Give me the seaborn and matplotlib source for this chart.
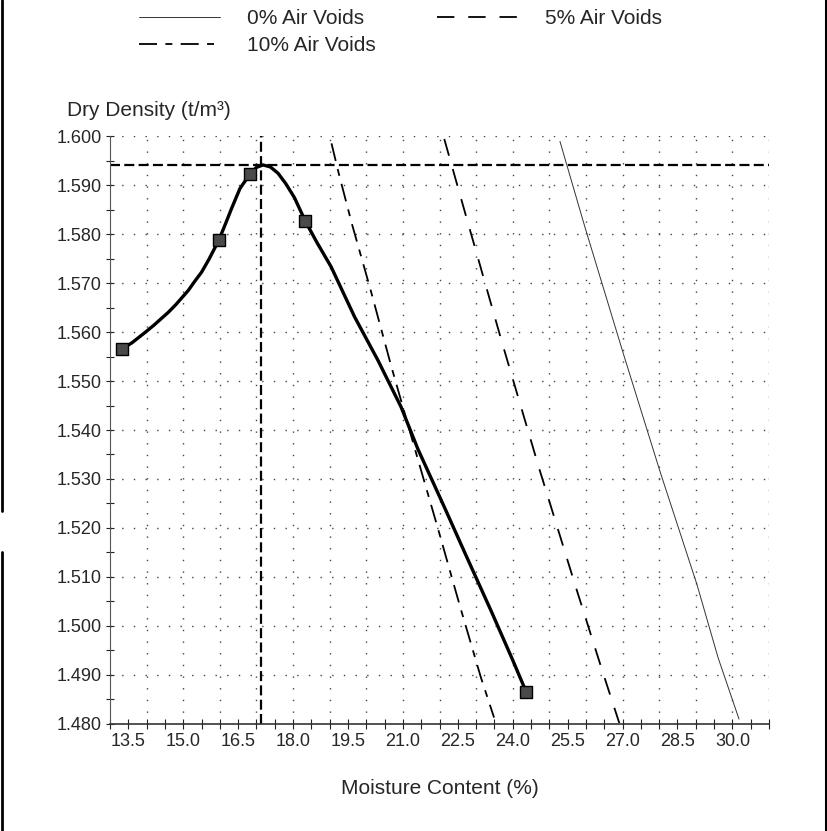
import numpy as np
import pandas as pd
import matplotlib
matplotlib.use("Agg")
import matplotlib.pyplot as plt
from matplotlib.lines import Line2D
from matplotlib.ticker import MultipleLocator, FormatStrFormatter
import seaborn as sns

# test results (moisture %, dry density t/m3)
test_w = [13.32, 15.97, 16.82, 18.33, 24.37]
test_dd = [1.5565, 1.5787, 1.5922, 1.5827, 1.4865]

# fitted compaction curve
curve_w = [13.32, 13.60, 13.99, 14.20, 14.59, 14.80, 15.14, 15.30, 15.50, 15.70, 15.97, 16.15,
           16.32, 16.55, 16.82, 17.00, 17.18, 17.38, 17.59, 17.80, 18.04, 18.33, 18.65,
           19.04, 19.68, 20.32, 20.95, 21.41, 22.13, 22.70, 23.42, 23.99, 24.37]
curve_dd = [1.5565, 1.5578, 1.5601, 1.5614, 1.5640, 1.5656, 1.5685, 1.5702, 1.5722, 1.5748, 1.5787, 1.5820,
            1.5852, 1.5893, 1.5922, 1.5936, 1.5941, 1.5937, 1.5924, 1.5903, 1.5874, 1.5827, 1.5783,
            1.5733, 1.5631, 1.5542, 1.5447, 1.5361, 1.5243, 1.5148, 1.5029, 1.4932, 1.4865]

# air void lines
av0_w = [25.29, 25.98, 27.02, 28.02, 29.03, 29.61, 30.18]
av0_dd = [1.5989, 1.5812, 1.5556, 1.5316, 1.5085, 1.4935, 1.4810]
av5_w = [22.13, 22.70, 23.71, 24.72, 25.72, 26.44, 26.91]
av5_dd = [1.5994, 1.5843, 1.5578, 1.5322, 1.5080, 1.4910, 1.4802]
av10_w = [19.05, 19.25, 19.61, 20.11, 20.69, 21.41, 21.98, 22.56, 23.13, 23.49]
av10_dd = [1.5985, 1.5923, 1.5820, 1.5688, 1.5528, 1.5340, 1.5193, 1.5040, 1.4895, 1.4813]

# optimum moisture content / maximum dry density
omc = 17.13
mdd = 1.594

x_ticks = np.arange(13.5, 30.01, 1.5)

sns.set_style("ticks")
plt.rcParams['font.family'] = ['Liberation Sans', 'DejaVu Sans']
plt.rcParams['lines.scale_dashes'] = False

fig, ax = plt.subplots(figsize=(8.27, 8.31), dpi=100)
fig.subplots_adjust(left=0.1330, right=0.9299, bottom=0.1288, top=0.8363)

ax.set_xlim(13.0, 31.0)
ax.set_ylim(1.480, 1.600)

# dotted grid: integers on x, every 0.010 on y
dot = (0, (1.0, 7.4))
for gx in np.arange(14, 31.5, 1.0):
    ax.axvline(gx, color='#444', lw=1.0, linestyle=dot, zorder=0)
for gy in np.arange(1.49, 1.6005, 0.01):
    ax.axhline(gy, color='#444', lw=1.0, linestyle=dot, zorder=0)

# OMC / MDD guide lines
ax.axhline(mdd, color='black', lw=1.6, linestyle=(0, (7.2, 3.1)), zorder=2)
ax.axvline(omc, color='black', lw=1.6, linestyle=(0, (7.2, 3.1)), zorder=2)

sns.lineplot(x=av0_w, y=av0_dd, ax=ax, sort=False, estimator=None, color='#333', lw=0.7)
h0 = ax.lines[-1]
sns.lineplot(x=av5_w, y=av5_dd, ax=ax, sort=False, estimator=None, color='black', lw=1.3)
h5 = ax.lines[-1]
h5.set_dashes((12.5, 10))
sns.lineplot(x=av10_w, y=av10_dd, ax=ax, sort=False, estimator=None, color='black', lw=1.3)
h10 = ax.lines[-1]
h10.set_dashes((13, 6, 5, 6))

sns.lineplot(x=curve_w, y=curve_dd, ax=ax, sort=False, estimator=None, color='black', lw=2.4)
ax.lines[-1].set_solid_joinstyle('round')
sns.scatterplot(x=test_w, y=test_dd, ax=ax, marker='s', s=85, color='#4a4a4a',
                edgecolor='black', linewidth=1.0, zorder=5)

if ax.get_legend() is not None:
    ax.get_legend().remove()

# axes
ax.set_xticks(x_ticks)
ax.xaxis.set_major_formatter(FormatStrFormatter('%.1f'))
ax.xaxis.set_minor_locator(MultipleLocator(0.5))
ax.yaxis.set_major_locator(MultipleLocator(0.01))
ax.yaxis.set_major_formatter(FormatStrFormatter('%.3f'))
ax.yaxis.set_minor_locator(MultipleLocator(0.005))
ax.tick_params(axis='x', which='both', direction='inout', length=7, width=0.8,
               color='#222', labelsize=13, pad=3)
ax.tick_params(axis='y', which='both', direction='inout', length=6, width=0.8,
               color='#222', labelsize=13, pad=3)

for side in ['top', 'right']:
    ax.spines[side].set_visible(False)
ax.spines['left'].set_color('#555')
ax.spines['left'].set_linewidth(0.8)
ax.spines['bottom'].set_color('#333')
ax.spines['bottom'].set_linewidth(1.2)

ax.set_xlabel('Moisture Content (%)', fontsize=15, labelpad=21)
ax.set_ylabel('Dry Density (t/m³)', fontsize=15, rotation=0, ha='left', va='center')
ax.yaxis.set_label_coords(-0.0653, 1.044)

fig.legend(handles=[h0, h10, h5], labels=['0% Air Voids', '10% Air Voids', '5% Air Voids'],
           ncol=2, loc='upper left', bbox_to_anchor=(139 / 827, 1 - 9.5 / 831),
           frameon=False, fontsize=15, handlelength=3.89, handletextpad=1.3,
           columnspacing=2.95, borderpad=0, borderaxespad=0, labelspacing=0.37)

# page border lines
fig.add_artist(Line2D([825.5 / 827] * 2, [0, 1], transform=fig.transFigure, color='black', lw=2.2))
fig.add_artist(Line2D([1.5 / 827] * 2, [1 - 511 / 831, 1], transform=fig.transFigure, color='black', lw=2.0))
fig.add_artist(Line2D([1.5 / 827] * 2, [0, 1 - 552 / 831], transform=fig.transFigure, color='black', lw=2.0))

fig.savefig('out.png', dpi=100)
